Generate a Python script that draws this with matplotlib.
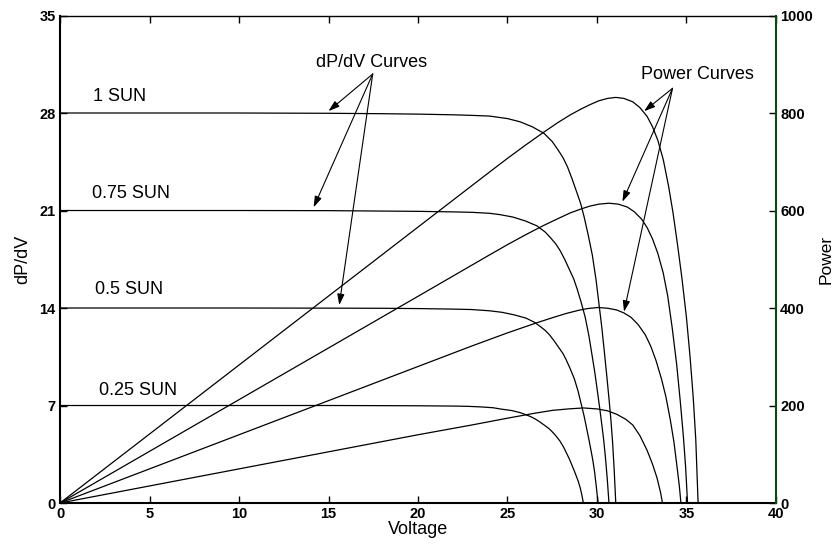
import matplotlib
matplotlib.use("Agg")
import matplotlib.pyplot as plt

plt.rcParams['font.family'] = ['Liberation Sans', 'DejaVu Sans']

# dP/dV curves (left axis)
dpdv_v_1 = [0, 10, 15, 18, 20, 22, 23, 24, 25, 25.7, 26.4, 27.04, 27.5, 27.8, 28.1, 28.35, 28.6, 28.9,
            29.1, 29.28, 29.5, 29.74, 29.95, 30.12, 30.27, 30.4, 30.55, 30.67, 30.77, 30.87, 30.96, 31.05]
dpdv_1 = [28, 28, 27.98, 27.95, 27.92, 27.87, 27.83, 27.78, 27.6, 27.37, 27.0, 26.54, 25.95, 25.4, 24.8,
          24.14, 23.3, 22.2, 21.45, 20.55, 19.3, 17.8, 16.0, 14.2, 12.6, 11.0, 9.1, 7.5, 6.1, 4.4, 2.4, 0]

dpdv_v_075 = [0, 10, 15, 18, 20, 22, 23, 24, 24.6, 25.3, 26.0, 26.64, 27.1, 27.4, 27.7, 27.95, 28.2, 28.5,
              28.7, 28.88, 29.1, 29.34, 29.55, 29.72, 29.87, 30.0, 30.15, 30.27, 30.37, 30.47, 30.57, 30.67]
dpdv_075 = [21, 21, 20.99, 20.96, 20.94, 20.9, 20.87, 20.8, 20.7, 20.53, 20.25, 19.9, 19.46, 19.05, 18.6,
            18.1, 17.48, 16.65, 16.09, 15.41, 14.48, 13.35, 12.0, 10.65, 9.45, 8.25, 6.83, 5.63, 4.58, 3.3, 1.8, 0]

dpdv_v_05 = [0, 10, 15, 18, 20, 21, 22, 23, 24, 24.7, 25.4, 26.04, 26.5, 26.8, 27.1, 27.35, 27.6, 27.9,
             28.1, 28.28, 28.5, 28.74, 28.95, 29.12, 29.27, 29.4, 29.55, 29.67, 29.77, 29.87, 29.96, 30.06]
dpdv_05 = [14, 14, 13.99, 13.98, 13.96, 13.94, 13.92, 13.89, 13.8, 13.69, 13.5, 13.27, 12.98, 12.7, 12.4,
           12.07, 11.65, 11.1, 10.73, 10.28, 9.65, 8.9, 8.0, 7.1, 6.3, 5.5, 4.55, 3.75, 3.05, 2.2, 1.2, 0]

dpdv_v_025 = [0, 10, 15, 18, 20, 21, 22, 22.8, 23.5, 24.2, 24.6, 25.23, 25.7, 26.0, 26.3, 26.54, 26.8, 27.1,
              27.3, 27.48, 27.7, 27.93, 28.14, 28.31, 28.46, 28.59, 28.74, 28.86, 28.96, 29.06, 29.15, 29.24]
dpdv_025 = [7, 7, 7.0, 6.99, 6.98, 6.97, 6.96, 6.94, 6.9, 6.84, 6.75, 6.64, 6.49, 6.35, 6.2, 6.04, 5.83,
            5.55, 5.36, 5.14, 4.83, 4.45, 4.0, 3.55, 3.15, 2.75, 2.28, 1.88, 1.53, 1.1, 0.6, 0]

# power curves (right axis)
pow_v_1 = [0, 10, 20, 24, 25, 26, 27, 27.8, 28.5, 29.1, 29.6, 30.1, 30.6, 31.05, 31.5, 32.0, 32.4, 32.8,
           33.1, 33.4, 33.7, 34.0, 34.25, 34.5, 34.75, 35.0, 35.2, 35.38, 35.52, 35.65]
pow_1 = [0, 283, 566, 679, 707, 734, 760, 780, 796, 808, 817, 825, 830, 832, 830, 823, 811, 793,
         772, 744, 705, 650, 595, 530, 460, 380, 300, 215, 130, 0]

pow_v_075 = [0, 10, 20, 24, 25, 26, 27, 27.8, 28.5, 29.1, 29.6, 30.1, 30.67, 31.2, 31.7, 32.1, 32.5, 32.8,
             33.1, 33.4, 33.7, 33.95, 34.2, 34.45, 34.65, 34.82, 34.95, 35.06]
pow_075 = [0, 212, 424, 509, 530, 550, 569, 583, 595, 603, 609, 613, 615, 613, 607, 597, 582, 565,
           542, 512, 472, 425, 360, 285, 210, 140, 75, 0]

pow_v_05 = [0, 10, 20, 23, 25, 26.5, 27.5, 28.3, 29.0, 29.5, 30.06, 30.6, 31.1, 31.5, 31.9, 32.3, 32.7,
            33.0, 33.3, 33.6, 33.85, 34.1, 34.3, 34.47, 34.6, 34.69]
pow_05 = [0, 140, 280, 322, 349, 368, 380, 389, 395.5, 399, 401, 399.5, 396, 390, 381, 366, 345,
          322, 292, 255, 218, 170, 125, 75, 35, 0]

pow_v_025 = [0, 10, 20, 23, 25, 26.5, 27.5, 28.4, 29.24, 30.0, 30.6, 31.1, 31.6, 32.0, 32.4, 32.8,
             33.1, 33.35, 33.55, 33.66]
pow_025 = [0, 70, 140, 160, 174, 184, 190, 193, 195, 193, 189, 182, 172, 160, 138, 108,
           80, 52, 22, 0]

sun_labels = ['1 SUN', '0.75 SUN', '0.5 SUN', '0.25 SUN']
sun_label_pos = [(1.85, 29.2), (1.77, 22.25), (1.96, 15.36), (2.18, 8.11)]

x_ticks = [0, 5, 10, 15, 20, 25, 30, 35, 40]
left_ticks = [0, 7, 14, 21, 28, 35]
right_ticks = [0, 200, 400, 600, 800, 1000]

green = '#0b4a0b'

fig = plt.figure(figsize=(8.35, 5.48), dpi=100)
ax = fig.add_axes([0.0719, 0.0821, 0.8574, 0.8896])
ax2 = ax.twinx()

lw = 0.9
ax.plot(dpdv_v_1, dpdv_1, color='k', lw=lw)
ax.plot(dpdv_v_075, dpdv_075, color='k', lw=lw)
ax.plot(dpdv_v_05, dpdv_05, color='k', lw=lw)
ax.plot(dpdv_v_025, dpdv_025, color='k', lw=lw)

ax2.plot(pow_v_1, pow_1, color='k', lw=lw)
ax2.plot(pow_v_075, pow_075, color='k', lw=lw)
ax2.plot(pow_v_05, pow_05, color='k', lw=lw)
ax2.plot(pow_v_025, pow_025, color='k', lw=lw)

ax.set_xlim(0, 40)
ax.set_ylim(0, 35)
ax2.set_ylim(0, 1000)
ax.set_xticks(x_ticks)
ax.set_yticks(left_ticks)
ax2.set_yticks(right_ticks)

tick_font = {'fontsize': 10.5, 'fontweight': 'bold'}
ax.set_xticklabels([str(t) for t in x_ticks], **tick_font)
ax.set_yticklabels([str(t) for t in left_ticks], **tick_font)
ax2.set_yticklabels([str(t) for t in right_ticks], **tick_font)
ax2.get_yticklabels()[0].set_color('#1a7a1a')

ax.tick_params(axis='x', direction='in', length=5, width=1, top=True, pad=3)
ax.tick_params(axis='y', direction='in', length=5, width=1, pad=3)
ax2.tick_params(axis='y', direction='in', length=5, width=1, colors='k', pad=3)

for side in ['left', 'bottom']:
    ax.spines[side].set_linewidth(1.5)
ax.spines['top'].set_linewidth(1.0)
ax.spines['right'].set_visible(False)
ax2.spines['right'].set_color(green)
ax2.spines['right'].set_linewidth(1.5)
for side in ['left', 'top', 'bottom']:
    ax2.spines[side].set_visible(False)

ax.set_xlabel('Voltage', fontsize=13, labelpad=0)
ax.set_ylabel('dP/dV', fontsize=13, labelpad=6)
ax2.set_ylabel('Power', fontsize=12.5, labelpad=4)

# curve labels
for lab, (x, y) in zip(sun_labels, sun_label_pos):
    ax.text(x, y, lab, fontsize=13, ha='left', va='center')

ax.text(14.32, 31.6, 'dP/dV Curves', fontsize=13, ha='left', va='center')
ax.text(32.45, 30.8, 'Power Curves', fontsize=13, ha='left', va='center')

arrow = dict(arrowstyle='-|>,head_length=0.55,head_width=0.18', color='k', lw=0.8,
             mutation_scale=12, shrinkA=0, shrinkB=0)
for tip in [(15.0, 28.14), (14.17, 21.23), (15.6, 14.21)]:
    ax.annotate('', xy=tip, xytext=(17.47, 30.8), arrowprops=arrow)
for tip in [(32.63, 28.13), (31.42, 21.63), (31.51, 13.73)]:
    ax.annotate('', xy=tip, xytext=(34.22, 29.77), arrowprops=arrow)

fig.savefig('out.png', dpi=100)
